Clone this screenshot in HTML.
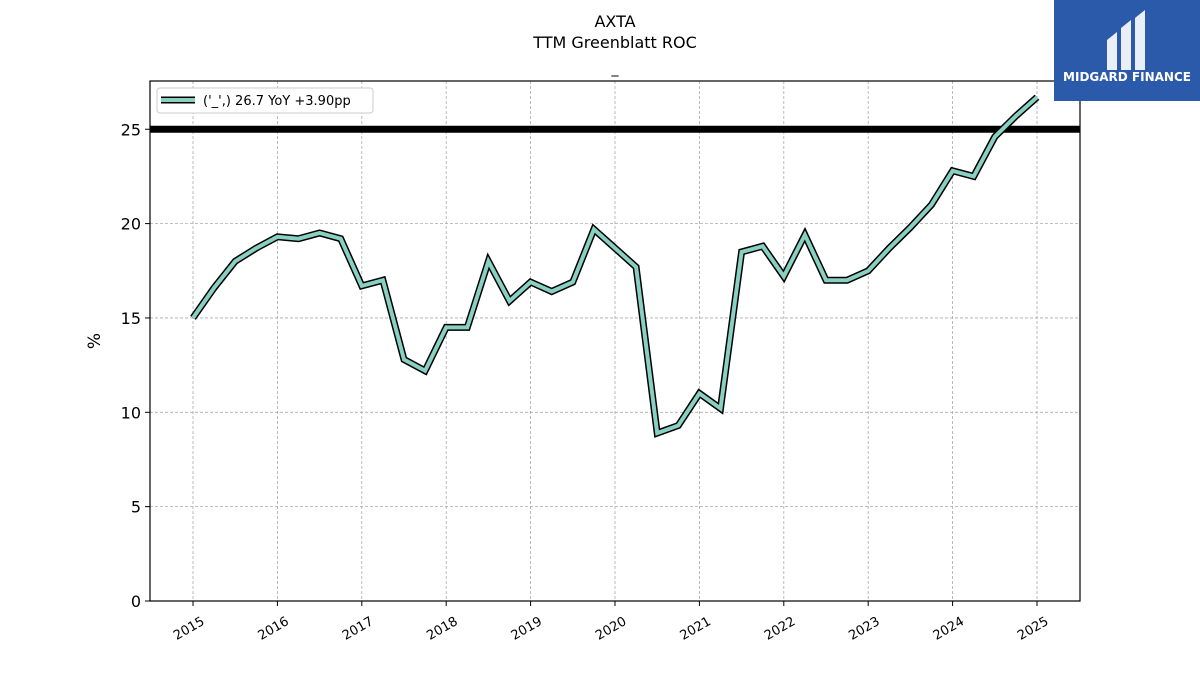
<!DOCTYPE html>
<html><head><meta charset="utf-8"><style>
body{margin:0;background:#fff;font-family:"Liberation Sans","DejaVu Sans",sans-serif;}
</style></head><body>
<svg width="1200" height="675" xmlns="http://www.w3.org/2000/svg" font-family="DejaVu Sans, Liberation Sans, sans-serif">
<rect width="1200" height="675" fill="#fff"/>
<text x="615" y="27" text-anchor="middle" font-size="16">AXTA</text>
<text x="615" y="48" text-anchor="middle" font-size="16">TTM Greenblatt ROC</text>
<text x="615" y="73" text-anchor="middle" font-size="14">_</text>
<g id="grid"></g>
<g id="marks"></g>
<rect x="150" y="81" width="930" height="520" fill="none" stroke="#000" stroke-width="1.2"/>
<g id="axes"></g>
<text transform="translate(100,341) rotate(-90)" text-anchor="middle" font-size="17">%</text>
<g>
<rect x="157" y="88" width="216" height="25" rx="3" fill="#fff" stroke="#ccc"/>
<line x1="161" y1="100" x2="195" y2="100" stroke="#000" stroke-width="7"/>
<line x1="161" y1="100" x2="195" y2="100" stroke="#88d0c2" stroke-width="4"/>
<text x="203" y="105" font-size="13">('_',) 26.7 YoY +3.90pp</text>
</g>
<g>
<rect x="1054" y="0" width="146" height="101" fill="#2b5aab"/>
<path d="M1107 40 l10 -8 v38 h-10 z M1121 28 l10 -8 v50 h-10 z M1135 18 l10 -8 v60 h-10 z" fill="#fff" opacity="0.9"/>
<text x="1127" y="81" text-anchor="middle" font-size="12" font-weight="bold" fill="#fff">MIDGARD FINANCE</text>
</g>
</svg>
<script>
const years=["2015","2016","2017","2018","2019","2020","2021","2022","2023","2024","2025"];
const yTicks=[0,5,10,15,20,25];
const dates=[];for(let i=0;i<41;i++)dates.push(2015+i*0.25);
const values=[15.0,16.6,18.0,18.7,19.3,19.2,19.5,19.2,16.7,17.0,12.8,12.2,14.5,14.5,18.0,15.9,16.9,16.4,16.9,19.7,18.7,17.7,8.9,9.3,11.0,10.2,18.5,18.8,17.2,19.4,17.0,17.0,17.5,18.7,19.8,21.0,22.8,22.5,24.6,25.7,26.7];
const refLine=25;
const NS="http://www.w3.org/2000/svg";
const X=v=>193+(v-2015)*84.4;
const Y=v=>601-v*18.87;
function mk(t,a,p){const e=document.createElementNS(NS,t);for(const k in a)e.setAttribute(k,a[k]);p.appendChild(e);return e;}
const grid=document.getElementById('grid'),axes=document.getElementById('axes'),marks=document.getElementById('marks');
yTicks.forEach(v=>{
 if(v>0){const g=mk('line',{x1:150,x2:1080,y1:Y(v),y2:Y(v),stroke:'#aaa','stroke-dasharray':'3,2','stroke-width':0.8},grid);
 
 }
 mk('line',{x1:145,x2:150,y1:Y(v),y2:Y(v),stroke:'#000'},axes);
 const t=mk('text',{x:141,y:Y(v)+6,'text-anchor':'end','font-size':16},axes);t.textContent=v;
 
 
});
years.forEach(y=>{
 const x=X(+y);
 const g=mk('line',{x1:x,x2:x,y1:81,y2:601,stroke:'#aaa','stroke-dasharray':'3,2','stroke-width':0.8},grid);
 
 
 mk('line',{x1:x,x2:x,y1:601,y2:606,stroke:'#000'},axes);
 const t=mk('text',{x:0,y:0,'text-anchor':'middle','font-size':13,transform:`translate(${x-2},${632}) rotate(-30)`},axes);t.textContent=y;
 
 
});
const r=mk('line',{x1:150,x2:1080,y1:Y(refLine),y2:Y(refLine),stroke:'#000','stroke-width':7},marks);


const pts=dates.map((d,i)=>X(d).toFixed(1)+','+Y(values[i]).toFixed(1)).join(' ');
const o=mk('polyline',{points:pts,fill:'none',stroke:'#000','stroke-width':7,'stroke-linejoin':'miter'},marks);


const l=mk('polyline',{points:pts,fill:'none',stroke:'#88d0c2','stroke-width':4,'stroke-linejoin':'miter'},marks);


</script>
</body></html>
